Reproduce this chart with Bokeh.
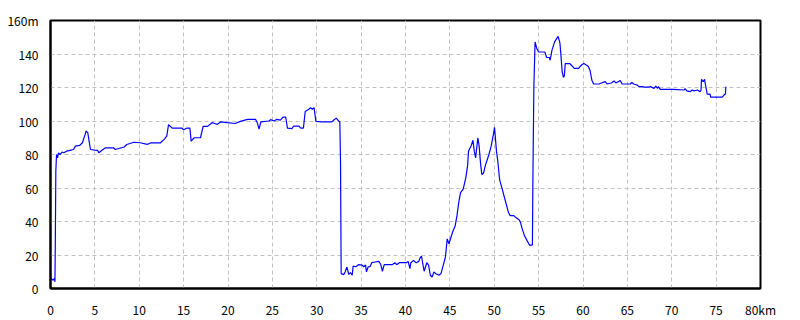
from bokeh.plotting import figure
from bokeh.models import Range1d, FixedTicker
from bokeh.embed import file_html
from bokeh.resources import INLINE

distance_km = [
    0.0, 0.3, 0.45, 0.5, 0.55, 0.6, 0.68, 0.8, 0.9, 1.1, 1.3, 1.5, 1.8, 2.2, 2.6, 2.8, 3.3, 3.6, 3.9, 4.0,
    4.2, 4.35, 4.5, 5.0, 5.3, 5.45, 5.8, 6.2, 7.1, 7.3, 8.3, 8.6, 9.4, 10.1, 10.9, 11.3, 12.4, 12.8, 13.1, 13.3,
    13.7, 14.8, 15.0, 15.4, 15.7, 15.85, 16.2, 16.9, 17.2, 17.7, 18.2, 18.5, 18.8, 19.2, 19.9, 20.8, 21.4, 22.2, 23.1, 23.3,
    23.5, 23.7, 24.6, 24.8, 25.2, 25.5, 25.9, 26.2, 26.5, 26.7, 27.2, 27.4, 28.0, 28.2, 28.5, 28.7, 29.1, 29.3, 29.5, 29.7,
    29.9, 30.6, 31.2, 31.7, 31.9, 32.2, 32.5, 32.6, 32.68, 32.75, 33.05, 33.2, 33.4, 33.6, 33.8, 34.0, 34.1, 34.4, 34.7, 35.1,
    35.3, 35.5, 35.6, 35.8, 36.0, 36.2, 36.6, 37.0, 37.2, 37.4, 37.6, 38.5, 38.8, 39.0, 39.3, 40.1, 40.3, 40.5, 40.6, 40.9,
    41.2, 41.5, 41.6, 41.8, 42.1, 42.4, 42.6, 42.8, 43.0, 43.2, 43.4, 43.75, 44.0, 44.2, 44.5, 44.7, 44.9, 45.0, 45.3, 45.6,
    45.8, 46.0, 46.2, 46.5, 46.8, 47.0, 47.1, 47.4, 47.6, 47.75, 47.9, 48.15, 48.3, 48.45, 48.6, 48.8, 49.0, 49.4, 49.65, 49.9,
    50.03, 50.25, 50.4, 50.6, 50.9, 51.1, 51.4, 51.6, 51.8, 52.2, 52.4, 52.8, 52.96, 53.1, 53.4, 53.7, 54.0, 54.3, 54.35, 54.46,
    54.6, 54.8, 55.0, 55.4, 55.7, 55.9, 56.2, 56.3, 56.5, 56.8, 57.2, 57.4, 57.5, 57.65, 57.8, 57.9, 58.0, 58.5, 58.8, 59.0,
    59.5, 59.7, 59.9, 60.1, 60.5, 60.6, 60.8, 61.0, 61.2, 61.8, 62.0, 62.5, 62.7, 63.2, 63.5, 63.7, 64.2, 64.4, 65.35, 65.5,
    65.7, 66.1, 66.3, 66.7, 66.85, 67.4, 67.6, 68.0, 68.2, 68.4, 68.5, 68.7, 70.2, 71.4, 71.5, 71.7, 72.1, 72.3, 72.5, 72.9,
    73.2, 73.3, 73.35, 73.55, 73.7, 73.8, 74.0, 74.3, 74.4, 75.7, 75.9, 76.05, 76.1,
]
elevation_m = [
    6, 5, 6, 4, 32, 70, 80, 78, 81, 80, 81.5, 81, 82, 82.5, 83, 85, 85.5, 87, 92, 94,
    93, 88, 83, 82.6, 82.5, 81, 82.5, 84, 84, 83, 84.5, 86, 87.3, 87, 86, 87, 87, 89, 91, 97.8,
    95.8, 95.8, 94.8, 95.8, 95.8, 88, 90, 90, 96.8, 96.8, 99, 98.5, 98, 99.5, 99, 98.5, 99.8, 101, 101, 99,
    95.2, 99.5, 100, 100.8, 100, 101, 100.5, 102.3, 102.3, 95.8, 95.5, 97, 97, 95.8, 95.8, 105.7, 107, 108, 107, 108,
    99.8, 99.5, 99.5, 99.5, 100.4, 101.7, 99.8, 99.5, 75, 8.9, 8.3, 9.9, 12.8, 8.5, 9.5, 7.9, 13.4, 13, 14.2, 14,
    13, 14, 9.9, 13, 13, 15.4, 15.8, 16.2, 14.5, 10.3, 14.2, 14.2, 15.4, 14.2, 15.4, 15.4, 16.2, 11.9, 15.4, 16.8,
    15.4, 16.2, 17.8, 19.4, 10.3, 15.4, 14, 7.9, 6.9, 9.9, 8.9, 7.9, 8.9, 12.8, 18.8, 29.6, 26.7, 28.5, 33.6, 37.5,
    43.5, 51.4, 57.3, 59.3, 66.2, 73.5, 82, 85.2, 88.5, 82, 78, 90, 85, 75, 68.1, 69, 73.5, 80, 85, 91.9,
    96.2, 82, 76, 65.2, 59.3, 55.3, 49.4, 45.4, 43.5, 43.5, 42.5, 41, 39.5, 36.5, 31.6, 28.6, 25.7, 26, 62.2, 119.5,
    147.2, 143.2, 141.2, 141.2, 141.2, 137.9, 137.9, 136.3, 142.2, 147.2, 150.5, 146.6, 140.2, 129.4, 126, 127, 134.3, 134.3, 132.7, 131.4,
    131.4, 132.7, 133.7, 134.3, 133, 132.5, 130, 124.4, 122.1, 122.1, 122.5, 123.5, 122.1, 122.7, 123.9, 122.7, 124.2, 122.1, 122.1, 123,
    122.1, 121.5, 120.5, 120.5, 120.2, 120.2, 120.5, 119.5, 120.8, 119.5, 120.5, 118.9, 118.9, 118.5, 119.3, 118, 117.5, 118.5, 118, 118.5,
    117.5, 118.5, 124.9, 123.5, 124.9, 121.5, 116.1, 116.1, 114.2, 114.2, 115.6, 116.1, 120.5,
]

x_ticks = [0, 5, 10, 15, 20, 25, 30, 35, 40, 45, 50, 55, 60, 65, 70, 75, 80]
y_ticks = [0, 20, 40, 60, 80, 100, 120, 140, 160]
x_unit = "km"
y_unit = "m"

FONT = "Noto Sans CJK JP"

p = figure(width=800, height=320, output_backend="svg", toolbar_location=None,
           x_range=Range1d(0, 80), y_range=Range1d(0, 160),
           min_border_left=50, min_border_right=40, min_border_top=20, min_border_bottom=30)
p.background_fill_color = "white"
p.border_fill_color = "white"
p.outline_line_color = "black"
p.outline_line_width = 2

p.line(distance_km, elevation_m, line_color="#0000ff", line_width=1.2)

for ax in (p.xaxis[0], p.yaxis[0]):
    ax.major_tick_line_color = None
    ax.minor_tick_line_color = None
    ax.axis_line_color = "black"
    ax.axis_line_width = 2
    ax.major_label_text_font = FONT
    ax.major_label_text_font_size = "12px"
    ax.major_label_text_color = "black"
    ax.major_label_standoff = 6

p.xaxis[0].ticker = FixedTicker(ticks=x_ticks)
p.yaxis[0].ticker = FixedTicker(ticks=y_ticks)
p.xaxis[0].major_label_overrides = {80: "80" + x_unit}
p.yaxis[0].major_label_overrides = {160: "160" + y_unit}

p.xgrid.ticker = FixedTicker(ticks=x_ticks)
p.ygrid.ticker = FixedTicker(ticks=y_ticks)
for g in (p.xgrid[0], p.ygrid[0]):
    g.grid_line_color = "#c0c0c0"
    g.grid_line_dash = "4 3"
    g.grid_line_width = 1

open("out.html", "w").write(file_html(p, INLINE))
